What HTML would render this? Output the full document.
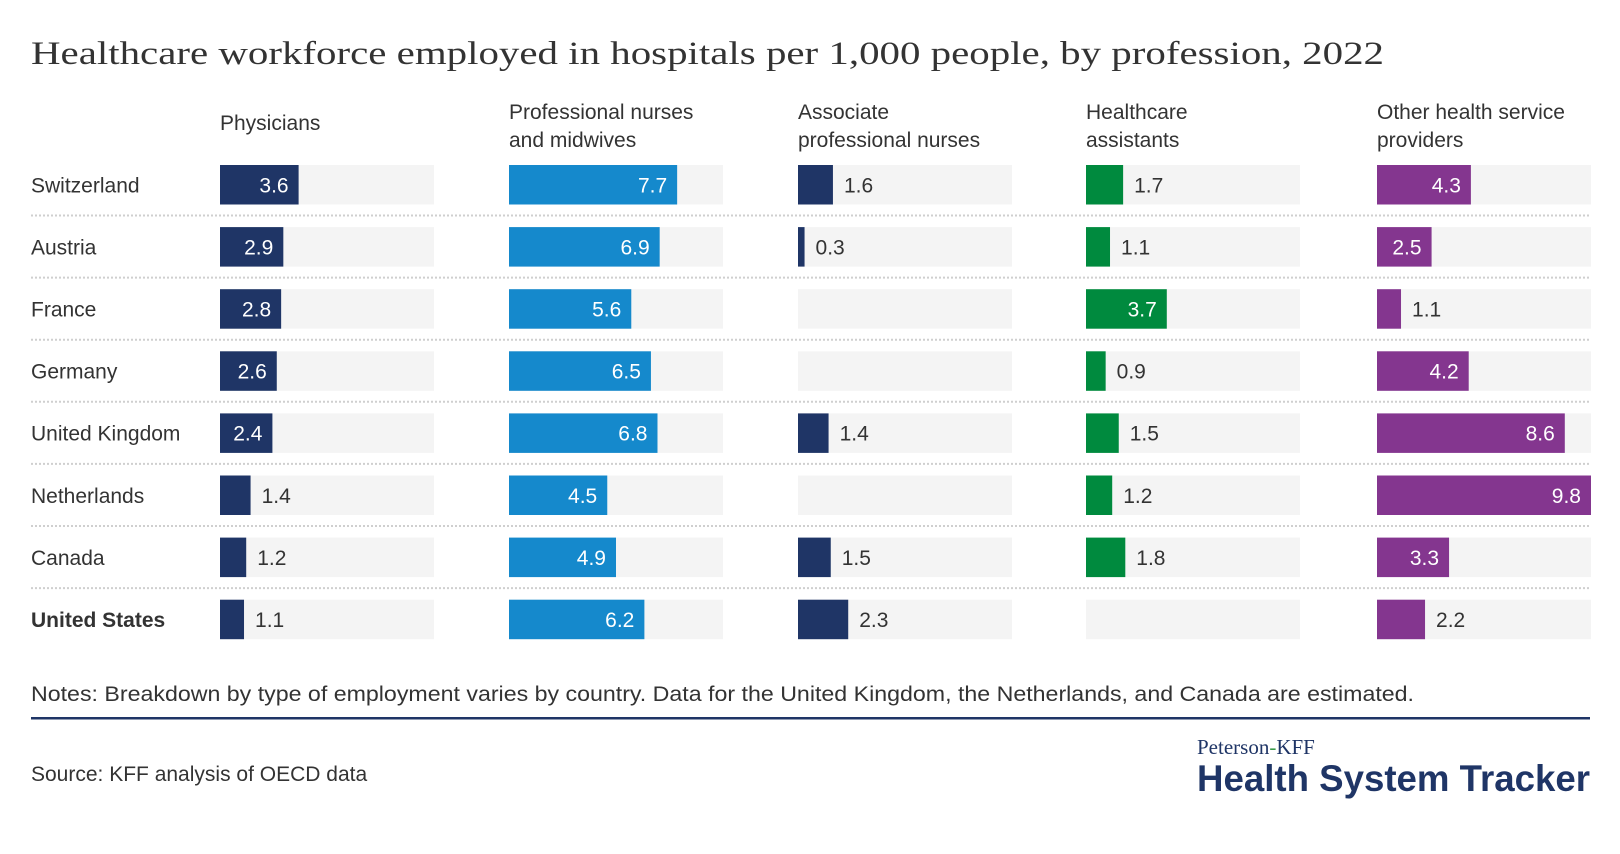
<!DOCTYPE html>
<html><head><meta charset="utf-8"><style>
html,body{margin:0;padding:0;background:#fff;}
svg{display:block;font-family:"Liberation Sans",sans-serif;}
</style></head><body>
<svg id="chart" width="1620" height="854" viewBox="0 0 1620 854" xmlns="http://www.w3.org/2000/svg">
<text x="31" y="64" font-family="Liberation Serif, serif" font-size="33" fill="#333" textLength="1353" lengthAdjust="spacingAndGlyphs">Healthcare workforce employed in hospitals per 1,000 people, by profession, 2022</text>
<g id="plot"></g>
<text x="31" y="701" font-size="21" fill="#333" textLength="1383" lengthAdjust="spacingAndGlyphs">Notes: Breakdown by type of employment varies by country. Data for the United Kingdom, the Netherlands, and Canada are estimated.</text>
<rect x="31" y="717" width="1559" height="2.5" fill="#1f3566"/>
<text x="31" y="781" font-size="21" fill="#333">Source: KFF analysis of OECD data</text>
<text x="1197" y="754" font-family="Liberation Serif, serif" font-size="21" fill="#1f3566">Peterson<tspan fill="#3a9a4a">-</tspan>KFF</text>
<text x="1197" y="791" font-size="37" font-weight="bold" fill="#1f3566" textLength="393" lengthAdjust="spacingAndGlyphs">Health System Tracker</text>
</svg>
<script>
const countries = ["Switzerland","Austria","France","Germany","United Kingdom","Netherlands","Canada","United States"];
const headers = [["Physicians"],["Professional nurses","and midwives"],["Associate","professional nurses"],["Healthcare","assistants"],["Other health service","providers"]];
const physicians = [3.6,2.9,2.8,2.6,2.4,1.4,1.2,1.1];
const nurses = [7.7,6.9,5.6,6.5,6.8,4.5,4.9,6.2];
const associate = [1.6,0.3,null,null,1.4,null,1.5,2.3];
const assistants = [1.7,1.1,3.7,0.9,1.5,1.2,1.8,null];
const other = [4.3,2.5,1.1,4.2,8.6,9.8,3.3,2.2];
const xMax = 9.8;

const series = [physicians,nurses,associate,assistants,other];
const colors = ["#1f3566","#1589cc","#1f3566","#008a3e","#84368f"];
const colX = [220,509,798,1086,1377];
const colW = 214;
const rowTop = 165, rowStep = 62.1, barH = 39.5;
const NS = "http://www.w3.org/2000/svg";
const plot = document.getElementById('plot');
function xs(v){ return v / xMax * colW; }
function yRow(i){ return rowTop + i * rowStep; }
function mk(tag, attrs, parent){ const e=document.createElementNS(NS,tag); for(const k in attrs) e.setAttribute(k, attrs[k]); parent.appendChild(e); return e; }

headers.forEach((h,c)=>{
  const y0 = h.length===1 ? 130 : 119;
  h.forEach((line,j)=>{
    const t = mk('text',{x:colX[c], y:y0 + j*28, 'font-size':21, fill:'#333'}, plot);
    
    
    t.textContent = line;
  });
});

countries.forEach((name,i)=>{
  const y = yRow(i);
  const t = mk('text',{x:31, y:y + barH/2 + 7.5, 'font-size':21, fill:'#333', 'font-weight': i===countries.length-1?'bold':'normal'}, plot);
  
  
  t.textContent = name;
  if (i < countries.length-1) {
    const l = mk('line',{x1:31, x2:1590, y1:y+barH+11, y2:y+barH+11, stroke:'#cfcfcf', 'stroke-width':2, 'stroke-dasharray':'2 2'}, plot);
    
    
  }
  series.forEach((s,c)=>{
    const bg = mk('rect',{x:colX[c], y:y, width:colW, height:barH, fill:'#f4f4f4'}, plot);
    
    
    const v = s[i];
    if (v === null || v === undefined) return;
    const w = xs(v);
    const b = mk('rect',{x:colX[c], y:y, width:w, height:barH, fill:colors[c]}, plot);
    
    
    const inside = v >= 2.4;
    const lbl = mk('text',{x: inside ? colX[c]+w-10 : colX[c]+w+11, y:y+barH/2+7.5, 'font-size':21, fill: inside?'#fff':'#333', 'text-anchor': inside?'end':'start'}, plot);
    
    
    lbl.textContent = v.toFixed(1);
  });
});
</script>
</body></html>
